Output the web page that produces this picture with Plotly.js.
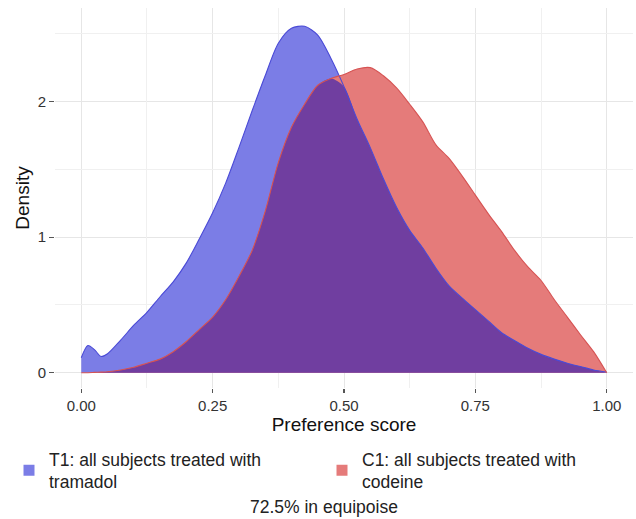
<!DOCTYPE html>
<html>
<head>
<meta charset="utf-8">
<script src="https://cdn.plot.ly/plotly-3.0.1.min.js"></script>
<style>html,body{margin:0;padding:0;background:#fff;}#chart{width:636px;height:519px;}</style>
</head>
<body>
<div id="chart"></div>
<script>
// Preference score grid
var prefScore = [0, 0.0125, 0.025, 0.0375, 0.05, 0.075, 0.1, 0.125, 0.15, 0.175, 0.2, 0.225, 0.25, 0.275, 0.3, 0.325, 0.35, 0.375, 0.4, 0.425, 0.45, 0.475, 0.5, 0.525, 0.55, 0.575, 0.6, 0.625, 0.65, 0.675, 0.7, 0.725, 0.75, 0.775, 0.8, 0.825, 0.85, 0.875, 0.9, 0.925, 0.95, 0.975, 1.0];
// T1: tramadol density
var densityT1 = [0.11, 0.20, 0.17, 0.12, 0.14, 0.24, 0.35, 0.445, 0.56, 0.67, 0.81, 0.99, 1.18, 1.40, 1.66, 1.93, 2.19, 2.43, 2.54, 2.555, 2.49, 2.32, 2.11, 1.87, 1.66, 1.43, 1.22, 1.05, 0.92, 0.77, 0.64, 0.55, 0.465, 0.38, 0.295, 0.235, 0.18, 0.135, 0.10, 0.07, 0.045, 0.02, 0.005];
// C1: codeine density
var densityC1 = [0, 0, 0.002, 0.004, 0.007, 0.02, 0.04, 0.07, 0.10, 0.155, 0.23, 0.32, 0.41, 0.54, 0.71, 0.90, 1.19, 1.55, 1.81, 1.98, 2.12, 2.17, 2.20, 2.24, 2.25, 2.19, 2.10, 1.98, 1.85, 1.68, 1.58, 1.45, 1.31, 1.17, 1.04, 0.90, 0.78, 0.68, 0.54, 0.41, 0.28, 0.155, 0];
var seriesNames = ["T1: all subjects treated with<br>tramadol", "C1: all subjects treated with<br>codeine"];
var xTicks = [0, 0.25, 0.5, 0.75, 1.0];
var xTickText = ["0.00", "0.25", "0.50", "0.75", "1.00"];
var xMinor = [0.125, 0.375, 0.625, 0.875];
var yTicks = [0, 1, 2];
var yTickText = ["0", "1", "2"];
var yMinor = [0.5, 1.5, 2.5];
var captionText = "72.5% in equipoise";

var overlap = prefScore.map(function(_, i){ return Math.min(densityT1[i], densityC1[i]); });

var blueFill = "#7B7DE6", redFill = "#E57B7A", purpleFill = "#703EA0";
var blueLine = "#4A4AD6", redLine = "#D65353";
var xRange = [-0.05, 1.05], yRange = [-0.113, 2.69];

var traces = [
  {x: prefScore, y: densityT1, type: "scatter", mode: "lines", fill: "tozeroy", fillcolor: blueFill,
   line: {width: 0, shape: "spline", smoothing: 0.8}, showlegend: false, hoverinfo: "skip"},
  {x: prefScore, y: densityC1, type: "scatter", mode: "lines", fill: "tozeroy", fillcolor: redFill,
   line: {width: 0, shape: "spline", smoothing: 0.8}, showlegend: false, hoverinfo: "skip"},
  {x: prefScore, y: overlap, type: "scatter", mode: "lines", fill: "tozeroy", fillcolor: purpleFill,
   line: {width: 0, shape: "spline", smoothing: 0.8}, showlegend: false, hoverinfo: "skip"},
  {x: prefScore, y: densityT1, type: "scatter", mode: "lines",
   line: {width: 1.1, color: blueLine, shape: "spline", smoothing: 0.8}, showlegend: false},
  {x: prefScore, y: densityC1, type: "scatter", mode: "lines",
   line: {width: 1.1, color: redLine, shape: "spline", smoothing: 0.8}, showlegend: false},
  {x: [null], y: [null], type: "scatter", mode: "markers", name: seriesNames[0], legendwidth: 268,
   marker: {symbol: "square", size: 11, color: blueFill}},
  {x: [null], y: [null], type: "scatter", mode: "markers", name: seriesNames[1], legendwidth: 218,
   marker: {symbol: "square", size: 11, color: redFill}}
];

var axisFont = {family: "Liberation Sans, Arial, sans-serif", size: 15, color: "#333"};
var titleFont = {family: "Liberation Sans, Arial, sans-serif", size: 19, color: "#111"};
var legFont = {family: "Liberation Sans, Arial, sans-serif", size: 17.5, color: "#222"};

var layout = {
  width: 636, height: 519,
  margin: {l: 55, r: 3, t: 8, b: 131},
  paper_bgcolor: "#fff", plot_bgcolor: "#fff",
  font: axisFont,
  xaxis: {
    range: xRange, tickvals: xTicks, ticktext: xTickText,
    ticks: "outside", ticklen: 4, tickwidth: 1.2, tickcolor: "#555",
    showgrid: true, gridcolor: "#E6E6E6", gridwidth: 1,
    zeroline: false, showline: false, tickfont: axisFont,
    title: {text: "Preference score", font: titleFont, standoff: 4}
  },
  xaxis2: {
    overlaying: "x", matches: "x", range: xRange, tickvals: xMinor, showticklabels: false, ticks: "",
    showgrid: true, gridcolor: "#F0F0F0", gridwidth: 1, zeroline: false, showline: false
  },
  yaxis: {
    range: yRange, tickvals: yTicks, ticktext: yTickText,
    ticks: "outside", ticklen: 5, tickwidth: 1.2, tickcolor: "#555",
    showgrid: true, gridcolor: "#E6E6E6", gridwidth: 1,
    zeroline: false, showline: false, tickfont: axisFont,
    title: {text: "Density", font: titleFont, standoff: 3}
  },
  yaxis2: {
    overlaying: "y", matches: "y", range: yRange, tickvals: yMinor, showticklabels: false, ticks: "",
    showgrid: true, gridcolor: "#F0F0F0", gridwidth: 1, zeroline: false, showline: false
  },
  legend: {
    orientation: "h", xref: "container", yref: "container",
    x: 9/636, y: 1 - 441/519, xanchor: "left", yanchor: "top",
    font: legFont, valign: "middle", bgcolor: "rgba(0,0,0,0)"
  },
  annotations: [{
    text: captionText, xref: "paper", yref: "paper",
    x: (324-55)/578, y: (388-507)/380, xanchor: "center", yanchor: "middle",
    showarrow: false, font: legFont
  }]
};

// dummy invisible trace so the minor-grid overlay axes are drawn
traces.push({x: [null], y: [null], xaxis: "x2", yaxis: "y2", type: "scatter", mode: "markers", showlegend: false, hoverinfo: "skip"});

Plotly.newPlot("chart", traces, layout, {displayModeBar: false, staticPlot: true});
</script>
</body>
</html>
